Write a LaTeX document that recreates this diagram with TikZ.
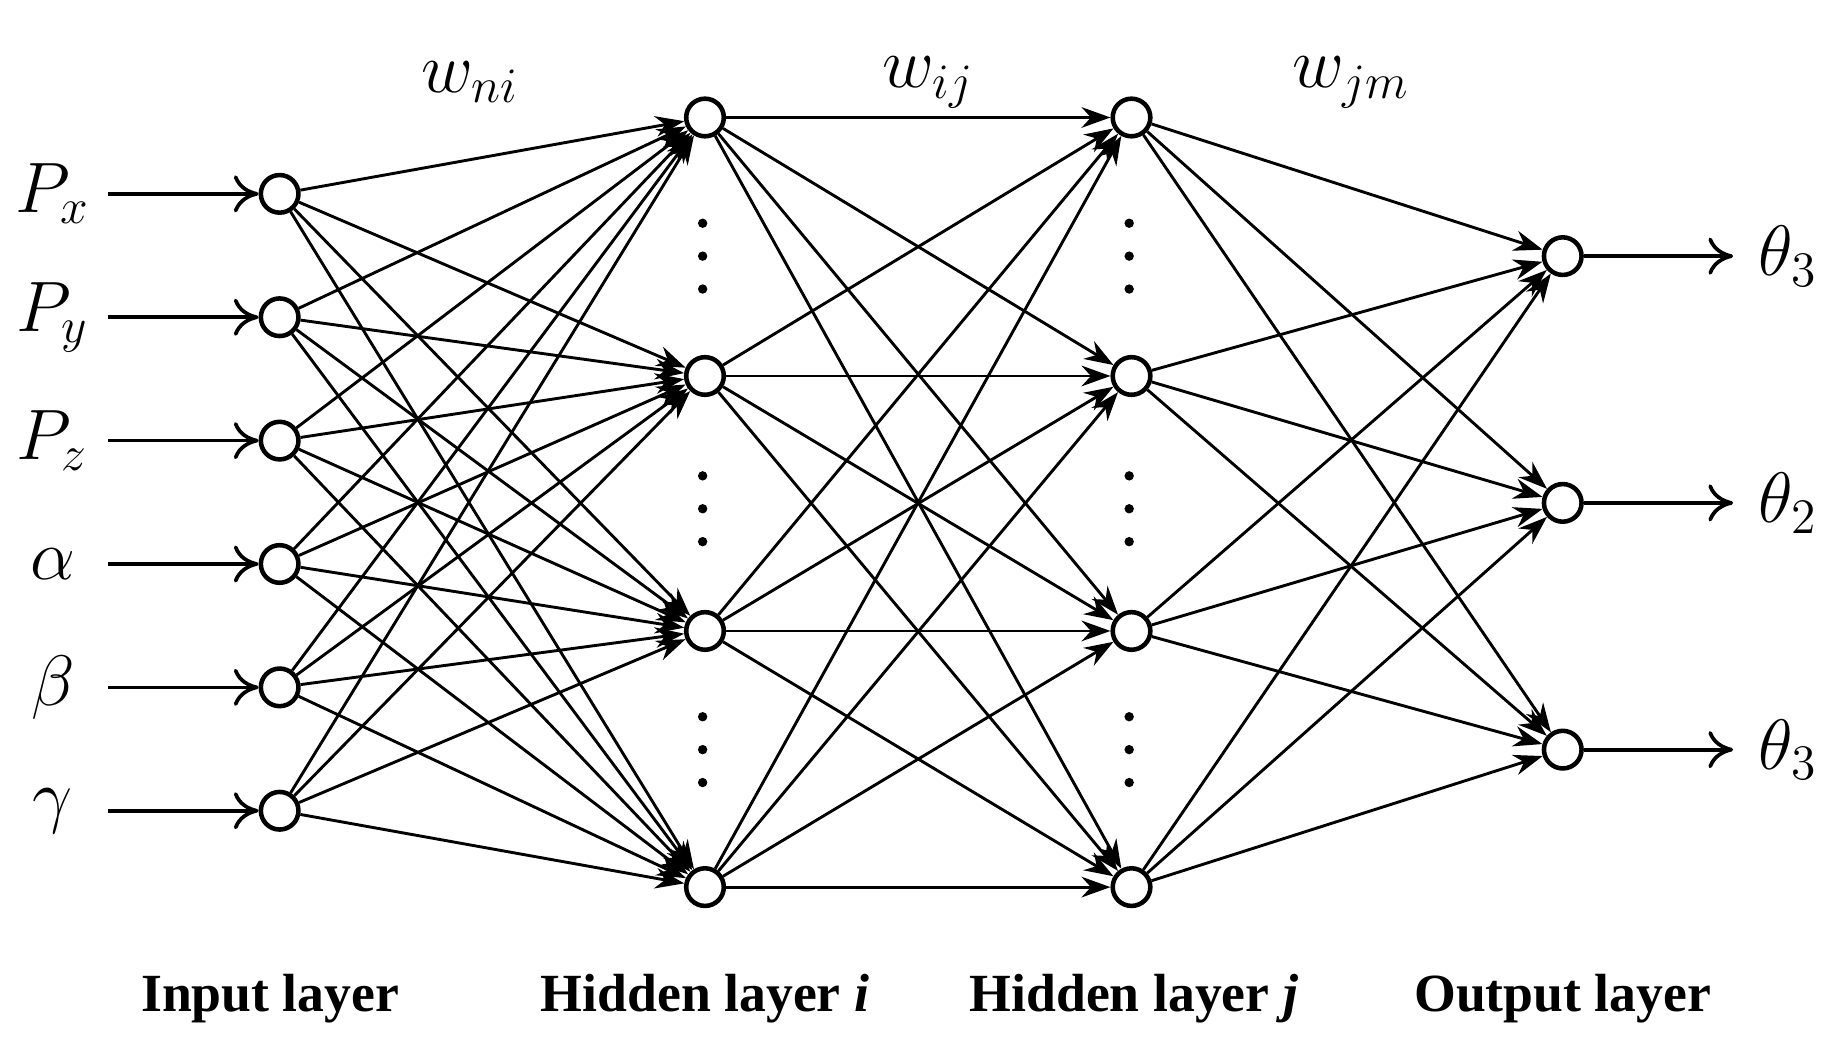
\documentclass[tikz,border=0pt]{standalone}
\usepackage{fontspec}
\setmainfont{Liberation Serif}
\usetikzlibrary{arrows.meta}
\begin{document}
\begin{tikzpicture}[x=0.01cm,y=-0.01cm,
  neuron/.style={circle,draw,line width=1.1pt,minimum size=0.32cm,inner sep=0pt,fill=white},
  conn/.style={line width=0.7pt,-{Stealth[length=7pt,width=5pt]}},
  io/.style={line width=0.9pt,-{To[length=6pt,width=9pt]}},
  lab/.style={font=\fontsize{17}{17}\selectfont\itshape},
  layer/.style={font=\fontsize{13}{13}\selectfont\bfseries}]
\useasboundingbox (0,0) rectangle (1560,886);
\foreach \y [count=\k] in {165,270,375,480,585,690} \node[neuron] (in\k) at (238,\y) {};
\foreach \y [count=\k] in {100,320,537,755} {\node[neuron] (h\k) at (600,\y) {}; \node[neuron] (g\k) at (963,\y) {};}
\foreach \y [count=\k] in {218,428,638} \node[neuron] (o\k) at (1330,\y) {};
\foreach \a in {1,...,6} \foreach \b in {1,...,4} \draw[conn] (in\a) -- (h\b);
\foreach \a in {1,...,4} \foreach \b in {1,...,4} \draw[conn] (h\a) -- (g\b);
\foreach \a in {1,...,4} \foreach \b in {1,...,3} \draw[conn] (g\a) -- (o\b);
\foreach \t [count=\k] in {P_x,P_y,P_z,\alpha,\beta,\gamma} {
  \node[lab,anchor=center] (l\k) at (45,{60+105*\k}) {$\t$};
  \coordinate (s\k) at (92,{60+105*\k});
  \draw[io] (s\k) -- (in\k);}
\foreach \t [count=\k] in {3,2,3} {
  \coordinate (e\k) at (1475,{8+210*\k});
  \draw[io] (o\k) -- (e\k);
  \node[lab] (t\k) at (1522,{8+210*\k}) {$\theta_{\t}$};}
\foreach \x in {598,961} \foreach \y in {190,218,246,405,433,461,610,638,666}
  \fill (\x,\y) circle (4);
\node[lab] (w1) at (400,70) {$w_{ni}$};
\node[lab] (w2) at (790,70) {$w_{ij}$};
\node[lab] (w3) at (1150,70) {$w_{jm}$};
\node[layer] (L1) at (230,850) {Input layer};
\node[layer] (L2) at (600,850) {Hidden layer \textit{i}};
\node[layer] (L3) at (965,850) {Hidden layer \textit{j}};
\node[layer] (L4) at (1330,850) {Output layer};
\end{tikzpicture}
\end{document}
